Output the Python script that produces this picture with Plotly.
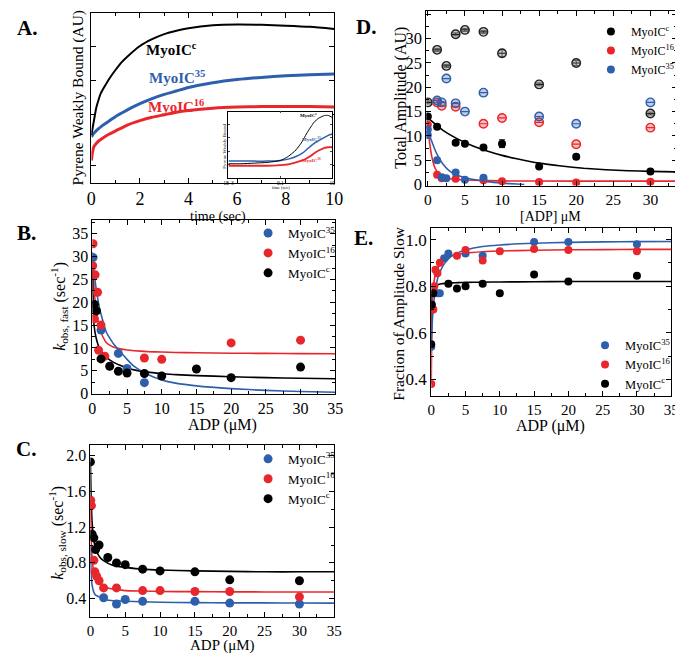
import plotly.graph_objects as go

SERIF = "Liberation Serif"
BLACK = "#000000"
RED = "#e8272d"
BLUE = "#2e5fac"
W, H = 683, 654

# ---------------- Panel A: transients (arbitrary units) ----------------
a_time = [0, 0.05, 0.1, 0.2, 0.3, 0.4, 0.6, 0.8, 1.0, 1.25, 1.5, 2.0, 2.5, 3.0, 3.5, 4.0, 5.0, 6.0, 7.0, 8.0, 9.0, 10.0]
a_black = [2.8, 3.2, 3.6, 4.4, 4.9, 5.3, 5.8, 6.25, 6.65, 7.1, 7.45, 8.05, 8.45, 8.75, 8.95, 9.1, 9.27, 9.32, 9.3, 9.25, 9.18, 9.05]
a_blue = [2.7, 2.8, 2.9, 3.05, 3.18, 3.3, 3.5, 3.7, 3.9, 4.1, 4.3, 4.65, 4.95, 5.2, 5.4, 5.6, 5.88, 6.07, 6.2, 6.3, 6.36, 6.4]
a_red = [1.3, 1.8, 2.1, 2.3, 2.45, 2.55, 2.75, 2.9, 3.05, 3.22, 3.4, 3.65, 3.85, 4.0, 4.15, 4.25, 4.38, 4.45, 4.48, 4.48, 4.48, 4.45]

# inset (log time)
in_time = [0.001, 0.003, 0.01, 0.03, 0.1, 0.2, 0.4, 0.7, 1, 1.5, 2, 3, 5, 7, 10]
in_black = [2.1, 2.1, 2.2, 2.3, 2.6, 3.2, 4.2, 5.5, 6.6, 7.7, 8.4, 9.0, 9.4, 9.4, 9.1]
in_blue = [2.5, 2.5, 2.5, 2.5, 2.6, 2.8, 3.2, 3.7, 4.2, 4.8, 5.2, 5.6, 6.1, 6.4, 6.6]
in_red = [1.8, 1.8, 1.8, 1.8, 1.9, 2.0, 2.3, 2.6, 2.9, 3.3, 3.7, 4.1, 4.5, 4.6, 4.6]

# ---------------- Panel B: k_obs fast ----------------
b_blue_x = [0.1, 1.25, 3.75, 5, 7.5]
b_blue_y = [29.8, 13.9, 8.8, 5.5, 2.4]
b_red_x = [0.05, 0.1, 0.3, 0.4, 0.75, 0.9, 1.25, 1.8, 7.5, 10, 20, 30]
b_red_y = [28.0, 32.8, 16.4, 26.0, 22.2, 9.5, 15.0, 8.2, 7.8, 7.5, 11.1, 11.7]
b_black_x = [0.3, 0.6, 1.25, 2.5, 3.75, 5, 7.5, 10, 15, 20, 30]
b_black_y = [19.5, 18.1, 7.6, 6.0, 4.9, 4.5, 4.4, 3.85, 5.4, 3.5, 5.8]
b_fit_x = [0, 0.25, 0.5, 1, 1.5, 2, 2.5, 3, 4, 5, 6, 8, 10, 12, 15, 20, 25, 30, 35]
b_fit_red = [31, 23, 19, 14.5, 12.5, 11.2, 10.6, 10.2, 9.8, 9.55, 9.4, 9.2, 9.1, 9.0, 8.95, 8.85, 8.8, 8.75, 8.72]
b_fit_black = [27, 15, 12.5, 10.0, 8.8, 8.0, 7.4, 6.9, 6.2, 5.6, 5.2, 4.7, 4.4, 4.15, 3.95, 3.7, 3.5, 3.35, 3.25]
b_fit_blue = [30, 26.5, 23.5, 19, 16, 13.5, 12.2, 11, 9.2, 7.5, 6.0, 4.2, 3.0, 2.3, 1.7, 1.1, 0.7, 0.45, 0.3]

# ---------------- Panel C: k_obs slow ----------------
c_blue_x = [1.9, 3.75, 5, 7.5, 15, 20, 30]
c_blue_y = [0.41, 0.34, 0.39, 0.37, 0.37, 0.35, 0.34]
c_red_x = [0.05, 0.15, 0.5, 0.65, 0.9, 1.25, 1.9, 3.75, 7.5, 10, 15, 20, 30]
c_red_y = [1.5, 1.44, 0.83, 0.7, 0.65, 0.6, 0.52, 0.52, 0.49, 0.49, 0.48, 0.48, 0.42]
c_black_x = [0, 0.25, 0.5, 0.75, 1.25, 2.5, 3.75, 5, 7.5, 10, 15, 20, 30]
c_black_y = [1.93, 1.12, 1.08, 0.95, 1.0, 0.86, 0.80, 0.78, 0.73, 0.71, 0.70, 0.61, 0.60]
c_fit_x = [0, 0.1, 0.25, 0.5, 0.75, 1, 1.5, 2, 3, 4, 5, 7.5, 10, 15, 20, 25, 30, 35]
c_fit_black = [1.93, 1.55, 1.25, 1.05, 0.96, 0.91, 0.85, 0.82, 0.78, 0.76, 0.75, 0.73, 0.72, 0.71, 0.705, 0.70, 0.70, 0.70]
c_fit_red = [1.5, 1.1, 0.85, 0.69, 0.63, 0.6, 0.55, 0.53, 0.51, 0.5, 0.49, 0.485, 0.48, 0.478, 0.476, 0.475, 0.475, 0.475]
c_fit_blue = [1.0, 0.7, 0.55, 0.47, 0.44, 0.43, 0.41, 0.39, 0.38, 0.375, 0.37, 0.365, 0.36, 0.355, 0.353, 0.352, 0.351, 0.35]

# ---------------- Panel D: total amplitude ----------------
d_tot_black_x = [0, 1.25, 2.5, 3.75, 5, 7.5, 10, 15, 20, 30]
d_tot_black_y = [16.9, 27.7, 24.4, 30.9, 31.8, 31.4, 27.0, 20.6, 25.0, 14.6]
d_tot_black_err = [0.3, 0.3, 0.3, 0.3, 0.3, 0.3, 0.7, 0.3, 0.5, 0.3]
d_tot_blue_x = [1.25, 1.875, 2.5, 3.75, 5, 7.5, 15, 20, 30]
d_tot_blue_y = [17.3, 16.9, 21.8, 16.7, 15.0, 18.9, 14.0, 12.5, 16.9]
d_tot_red_x = [1.25, 1.875, 3.75, 7.5, 10, 15, 20, 30]
d_tot_red_y = [16.9, 16.2, 16.0, 12.5, 13.7, 12.8, 8.3, 11.7]
d_black_x = [0, 1.25, 3.75, 5, 7.5, 10, 15, 20, 30]
d_black_y = [14.0, 11.9, 8.6, 8.4, 7.6, 8.4, 3.7, 5.7, 2.7]
d_black_err = [0.3, 0.3, 0.4, 0.3, 0.4, 0.8, 0.4, 0.5, 0.3]
d_red_x = [0, 1.25, 1.875, 3.75, 7.5, 10, 15, 20, 30]
d_red_y = [12.3, 2.0, 1.3, 1.2, 0.9, 0.7, 0.5, 0.4, 0.6]
d_blue_x = [0, 0, 1.25, 1.875, 2.5, 3.75, 5, 7.5]
d_blue_y = [10.2, 11.3, 5.0, 1.5, 1.3, 2.5, 1.0, 1.4]
d_fit_black_x = [0, 2, 4, 6, 8, 10, 12, 15, 18, 21, 24, 27, 30, 33.6]
d_fit_black_y = [13.7, 11.2, 9.4, 8.0, 6.9, 6.0, 5.3, 4.4, 3.8, 3.35, 3.05, 2.85, 2.7, 2.6]
d_fit_red_x = [0, 0.25, 0.5, 0.75, 1, 1.5, 2, 3, 4, 6, 10, 20, 33.6]
d_fit_red_y = [12, 8.5, 6.0, 4.4, 3.3, 2.1, 1.6, 1.2, 1.05, 0.9, 0.75, 0.7, 0.7]
d_fit_blue_x = [0, 0.5, 1, 1.5, 2, 3, 4, 5, 6, 8, 10, 12, 13]
d_fit_blue_y = [11, 9, 7.0, 5.5, 4.3, 2.7, 1.9, 1.4, 1.1, 0.6, 0.3, 0.1, 0]

# ---------------- Panel E: fraction slow ----------------
e_blue_x = [0, 0.9, 1.25, 1.875, 2.5, 5, 7.5, 15, 20, 30]
e_blue_y = [0.54, 0.77, 0.77, 0.92, 0.94, 0.94, 0.93, 0.99, 0.99, 0.98]
e_red_x = [0, 0.3, 0.45, 0.6, 0.9, 1.25, 3.75, 5, 7.5, 10, 15, 20, 30]
e_red_y = [0.38, 0.70, 0.80, 0.87, 0.855, 0.90, 0.93, 0.955, 0.91, 0.95, 0.96, 0.955, 0.95]
e_black_x = [0, 0.1, 0.3, 2.5, 3.75, 5, 7.5, 10, 15, 20, 30]
e_black_y = [0.55, 0.72, 0.77, 0.81, 0.79, 0.80, 0.81, 0.77, 0.85, 0.82, 0.845]
e_fit_x = [0, 0.1, 0.2, 0.4, 0.7, 1, 1.5, 2, 3, 4, 5, 7.5, 10, 15, 20, 25, 30, 35]
e_fit_blue = [0.55, 0.62, 0.67, 0.74, 0.8, 0.84, 0.875, 0.9, 0.93, 0.945, 0.955, 0.97, 0.977, 0.984, 0.988, 0.99, 0.991, 0.992]
e_fit_red = [0.38, 0.7, 0.76, 0.82, 0.86, 0.88, 0.9, 0.915, 0.93, 0.937, 0.942, 0.948, 0.951, 0.954, 0.956, 0.957, 0.958, 0.958]
e_fit_black = [0.55, 0.76, 0.78, 0.795, 0.803, 0.807, 0.81, 0.812, 0.814, 0.815, 0.816, 0.817, 0.818, 0.819, 0.82, 0.82, 0.82, 0.82]


def px(x):
    return x / W


def py(y):
    return 1 - y / H


def box_axis(x0, x1, rng, dtick, minor, size, anchor, fmt=None, **kw):
    d = dict(domain=[px(x0), px(x1)], range=rng, anchor=anchor, showline=True,
             linecolor="black", linewidth=1, mirror="ticks", ticks="inside",
             ticklen=5, tickwidth=1, tickcolor="black", showgrid=False,
             zeroline=False, tick0=0, dtick=dtick,
             tickfont=dict(family=SERIF, size=size, color="black"))
    if minor:
        d["minor"] = dict(ticks="inside", ticklen=3, tickcolor="black", dtick=minor, showgrid=False)
    if fmt:
        d["tickformat"] = fmt
    d.update(kw)
    return d


def ybox(y_top, y_bot, rng, dtick, minor, size, anchor, fmt=None, **kw):
    d = box_axis(0, 1, rng, dtick, minor, size, anchor, fmt, **kw)
    d["domain"] = [py(y_bot), py(y_top)]
    return d


fig = go.Figure()

# ---- A main
for yv, col, w in [(a_red, RED, 3), (a_blue, BLUE, 3), (a_black, BLACK, 2)]:
    fig.add_trace(go.Scatter(x=a_time, y=yv, mode="lines", line=dict(color=col, width=w, shape="spline", smoothing=0.6),
                             xaxis="x", yaxis="y", showlegend=False))
# ---- A inset
for yv, col, w in [(in_red, RED, 1.8), (in_blue, BLUE, 1.5), (in_black, BLACK, 1.0)]:
    fig.add_trace(go.Scatter(x=in_time, y=yv, mode="lines", line=dict(color=col, width=w, shape="spline", smoothing=0.6),
                             xaxis="x2", yaxis="y2", showlegend=False))


def fit(xs, ys, col, xa, ya):
    fig.add_trace(go.Scatter(x=xs, y=ys, mode="lines", line=dict(color=col, width=1.6, shape="spline", smoothing=0.5),
                             xaxis=xa, yaxis=ya, showlegend=False, cliponaxis=True))


def pts(xs, ys, col, name, xa, ya, legend, size=9):
    fig.add_trace(go.Scatter(x=xs, y=ys, mode="markers", name=name,
                             marker=dict(color=col, size=size, line=dict(width=0)),
                             xaxis=xa, yaxis=ya, legend=legend, showlegend=True))


L35 = "MyoIC<sup>35</sup>"
L16 = "MyoIC<sup>16</sup>"
LC = "MyoIC<sup>c</sup>"

# ---- B
fit(b_fit_x, b_fit_red, RED, "x3", "y3")
fit(b_fit_x, b_fit_black, BLACK, "x3", "y3")
fit(b_fit_x, b_fit_blue, BLUE, "x3", "y3")
pts(b_blue_x, b_blue_y, BLUE, L35, "x3", "y3", "legend")
pts(b_red_x, b_red_y, RED, L16, "x3", "y3", "legend")
pts(b_black_x, b_black_y, BLACK, LC, "x3", "y3", "legend")

# ---- C
fit(c_fit_x, c_fit_black, BLACK, "x4", "y4")
fit(c_fit_x, c_fit_red, RED, "x4", "y4")
fit(c_fit_x, c_fit_blue, BLUE, "x4", "y4")
pts(c_blue_x, c_blue_y, BLUE, L35, "x4", "y4", "legend2")
pts(c_red_x, c_red_y, RED, L16, "x4", "y4", "legend2")
pts(c_black_x, c_black_y, BLACK, LC, "x4", "y4", "legend2")


# ---- D open (total) markers
def open_pts(xs, ys, col, fill, err=None):
    kw = {}
    if err is not None:
        kw["error_y"] = dict(type="data", array=err, color=col, thickness=1, width=3)
    fig.add_trace(go.Scatter(x=xs, y=ys, mode="markers",
                             marker=dict(color=fill, size=8.5, line=dict(color=col, width=1.4)),
                             xaxis="x5", yaxis="y5", showlegend=False, **kw))
    fig.add_trace(go.Scatter(x=xs, y=ys, mode="markers",
                             marker=dict(symbol="line-ew", size=6, line=dict(color=col, width=1.2)),
                             xaxis="x5", yaxis="y5", showlegend=False))


open_pts(d_tot_black_x, d_tot_black_y, "#222222", "rgba(150,150,150,0.5)", d_tot_black_err)
open_pts(d_tot_red_x, d_tot_red_y, RED, "rgba(232,39,45,0.3)")
open_pts(d_tot_blue_x, d_tot_blue_y, BLUE, "rgba(46,95,172,0.3)")
fit(d_fit_black_x, d_fit_black_y, BLACK, "x5", "y5")
fit(d_fit_red_x, d_fit_red_y, RED, "x5", "y5")
fit(d_fit_blue_x, d_fit_blue_y, BLUE, "x5", "y5")
fig.add_trace(go.Scatter(x=d_black_x, y=d_black_y, mode="markers", name=LC,
                         marker=dict(color=BLACK, size=8),
                         error_y=dict(type="data", array=d_black_err, color=BLACK, thickness=1, width=3),
                         xaxis="x5", yaxis="y5", legend="legend3"))
pts(d_red_x, d_red_y, RED, L16, "x5", "y5", "legend3", size=8)
pts(d_blue_x, d_blue_y, BLUE, L35, "x5", "y5", "legend3", size=8)

# ---- E
fit(e_fit_x, e_fit_black, BLACK, "x6", "y6")
fit(e_fit_x, e_fit_red, RED, "x6", "y6")
fit(e_fit_x, e_fit_blue, BLUE, "x6", "y6")
pts(e_blue_x, e_blue_y, BLUE, L35, "x6", "y6", "legend4", size=8)
pts(e_red_x, e_red_y, RED, L16, "x6", "y6", "legend4", size=8)
pts(e_black_x, e_black_y, BLACK, LC, "x6", "y6", "legend4", size=8)

layout = dict(
    width=W, height=H, margin=dict(l=0, r=0, t=0, b=0),
    paper_bgcolor="white", plot_bgcolor="white",
    font=dict(family=SERIF, color="black"),
    # A
    xaxis=box_axis(80, 328, [0, 10], 2, 1, 18, "y"),
    yaxis=ybox(5, 177, [0, 10], None, None, 10, "x", tickvals=[1, 4, 6, 8], showticklabels=False),
    # inset
    xaxis2=dict(domain=[px(220), px(326)], type="log", range=[-3, 1], anchor="y2",
                showline=True, linecolor="black", linewidth=0.8, mirror="ticks", ticks="inside",
                ticklen=2, tickvals=[0.001, 0.1, 10], ticktext=["1E-3", "0.1", "10"],
                tickfont=dict(family=SERIF, size=5.5), showgrid=False, zeroline=False),
    yaxis2=dict(domain=[py(172), py(105)], range=[0, 10], anchor="x2",
                showline=True, linecolor="black", linewidth=0.8, mirror="ticks", ticks="inside",
                ticklen=2, tickvals=[2, 4, 6, 8], showticklabels=False, showgrid=False, zeroline=False),
    # B
    xaxis3=box_axis(81, 329, [0, 35], 5, 2.5, 16, "y3"),
    yaxis3=ybox(215, 391, [0, 38], 5, 2.5, 16, "x3"),
    # C
    xaxis4=box_axis(79, 328, [0, 35], 5, 2.5, 15, "y4"),
    yaxis4=ybox(443, 617, [0.2, 2.12], 0.4, 0.2, 16, "x4", ".1f"),
    # D
    xaxis5=box_axis(422, 678, [-0.2, 33.6], 5, 2.5, 15.5, "y5"),
    yaxis5=ybox(3, 180, [-0.2, 35.7], 5, 2.5, 16.5, "x5"),
    # E
    xaxis6=box_axis(427, 672, [0, 35], 5, 2.5, 15, "y6"),
    yaxis6=ybox(223, 393, [0.33, 1.05], 0.2, 0.1, 17, "x6", ".1f"),
)

leg_common = dict(bgcolor="rgba(0,0,0,0)", itemwidth=30, tracegroupgap=0,
                  xanchor="left", yanchor="top", traceorder="normal")
layout["legend"] = dict(x=px(240), y=py(213), font=dict(family=SERIF, size=13), **leg_common)
layout["legend2"] = dict(x=px(240), y=py(442), font=dict(family=SERIF, size=13), **leg_common)
layout["legend3"] = dict(x=px(590), y=py(9), font=dict(family=SERIF, size=12), **leg_common)
layout["legend4"] = dict(x=px(584), y=py(327), font=dict(family=SERIF, size=12.5), **leg_common)

ann = []


def note(x, y, text, size, angle=0, color="black", bold=False, xanchor="center"):
    t = f"<b>{text}</b>" if bold else text
    ann.append(dict(x=px(x), y=py(y), xref="paper", yref="paper", text=t, showarrow=False,
                    textangle=angle, xanchor=xanchor, yanchor="middle",
                    font=dict(family=SERIF, size=size, color=color)))


# panel letters
note(14, 20, "A.", 21, bold=True)
note(14, 228, "B.", 21, bold=True)
note(13, 447, "C.", 21, bold=True)
note(360, 19, "D.", 21, bold=True)
note(358, 233, "E.", 21, bold=True)

# axis titles
note(66, 91, "Pyrene Weakly Bound (AU)", 15.5, angle=-90)
note(209, 212, "time (sec)", 14)
note(47, 303, "<i>k</i><sub>obs, fast</sub> (sec<sup>-1</sup>)", 16, angle=-90)
note(214, 423, "ADP (μM)", 16)
note(45, 532, "<i>k</i><sub>obs, slow</sub> (sec<sup>-1</sup>)", 16, angle=-90)
note(214, 646, "ADP (μM)", 15)
note(396, 91, "Total Amplitude (AU)", 16, angle=-90)
note(549, 211, "[ADP] μM", 14)
note(394, 310, "Fraction of Amplitude Slow", 15.5, angle=-90)
note(549, 424, "ADP (μM)", 16)

# A curve labels
note(162, 42, "MyoIC<sup>c</sup>", 15, color=BLACK, bold=True)
note(167, 70, "MyoIC<sup>35</sup>", 15, color=BLUE, bold=True)
note(166, 99, "MyoIC<sup>16</sup>", 15, color=RED, bold=True)
# inset labels
note(302, 108, "MyoIC<sup>c</sup>", 5, color=BLACK, bold=True)
note(305, 133, "MyoIC<sup>35</sup>", 5, color=BLUE, bold=True)
note(305, 154, "MyoIC<sup>16</sup>", 5, color=RED, bold=True)
note(215, 140, "Pyrene Weakly Bound", 5, angle=-90)
note(274, 182, "time (sec)", 4.5)

layout["annotations"] = ann
fig.update_layout(**layout)
fig.write_html("out.html")
